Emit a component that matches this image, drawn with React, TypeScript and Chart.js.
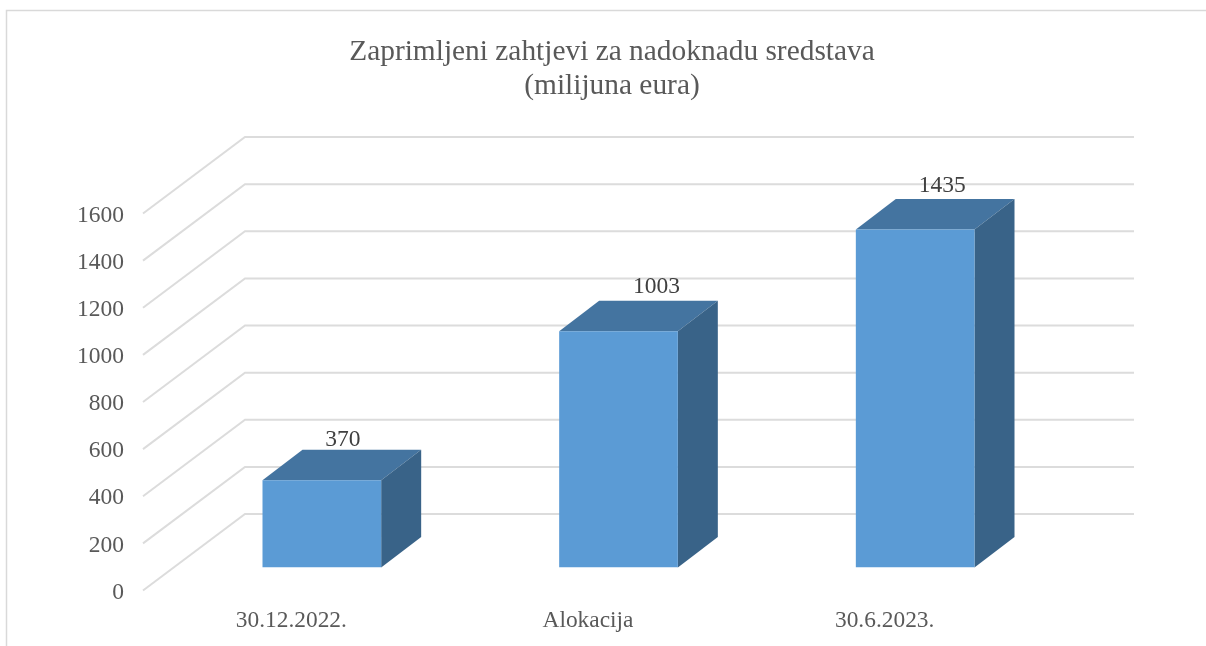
import React, { useEffect, useRef } from "react";
import { Chart, registerables } from "chart.js";

Chart.register(...registerables);

const categories = ["30.12.2022.", "Alokacija", "30.6.2023."];
const values = [370, 1003, 1435];
const titleLines = ["Zaprimljeni zahtjevi za nadoknadu sredstava", "(milijuna eura)"];

const FONT = '"Liberation Serif", serif';
const WALL_DX = 102;
const WALL_DY = 76.5;
const BAR_SHIFT_X = 30.5;
const BAR_SHIFT_Y = 23;
const DEPTH_DX = 40;
const DEPTH_DY = 30.5;
// the value labels sit at slightly different spots over each bar
const LABEL_NUDGE_X = [21, 38, 27];
const LABEL_NUDGE_Y = [-9.5, -13.5, -13.5];

const framePlugin = {
  id: "frame",
  beforeDraw(chart: any) {
    const { ctx, width, height } = chart;
    ctx.save();
    ctx.fillStyle = "#ffffff";
    ctx.fillRect(0, 0, width, height);
    ctx.strokeStyle = "#d9d9d9";
    ctx.lineWidth = 1.5;
    ctx.beginPath();
    ctx.moveTo(6.5, height);
    ctx.lineTo(6.5, 10.5);
    ctx.lineTo(width, 10.5);
    ctx.stroke();
    ctx.restore();
  },
};

const titleShiftPlugin = {
  id: "titleShift",
  afterLayout(chart: any) {
    const t = chart.titleBlock;
    if (t) {
      t.left = 0;
      t.right = 1224;
    }
  },
};

const wallPlugin = {
  id: "wall",
  beforeDatasetsDraw(chart: any) {
    const { ctx, scales, chartArea } = chart;
    ctx.save();
    ctx.strokeStyle = "#dcdcdc";
    ctx.lineWidth = 2;
    for (const tick of scales.y.ticks) {
      const y = scales.y.getPixelForValue(tick.value);
      ctx.beginPath();
      ctx.moveTo(chartArea.left, y);
      ctx.lineTo(chartArea.left + WALL_DX, y - WALL_DY);
      ctx.lineTo(chartArea.right + WALL_DX - 1, y - WALL_DY);
      ctx.stroke();
    }
    ctx.restore();
    // bars stand on the floor of the box, slightly behind the front edge
    ctx.save();
    ctx.translate(BAR_SHIFT_X, -BAR_SHIFT_Y);
    const meta = chart.getDatasetMeta(0);
    meta.data.forEach((bar: any) => {
      const half = bar.width / 2;
      const l = bar.x - half;
      const r = bar.x + half;
      const top = bar.y;
      const bottom = bar.base;
      ctx.fillStyle = "#4474a0";
      ctx.beginPath();
      ctx.moveTo(l, top);
      ctx.lineTo(l + DEPTH_DX, top - DEPTH_DY);
      ctx.lineTo(r + DEPTH_DX, top - DEPTH_DY);
      ctx.lineTo(r, top);
      ctx.closePath();
      ctx.fill();
      ctx.fillStyle = "#396388";
      ctx.beginPath();
      ctx.moveTo(r, top);
      ctx.lineTo(r + DEPTH_DX, top - DEPTH_DY);
      ctx.lineTo(r + DEPTH_DX, bottom - DEPTH_DY);
      ctx.lineTo(r, bottom);
      ctx.closePath();
      ctx.fill();
    });
  },
  afterDatasetsDraw(chart: any) {
    const { ctx } = chart;
    ctx.restore();
    ctx.save();
    ctx.font = `23.5px ${FONT}`;
    ctx.fillStyle = "#404040";
    ctx.textAlign = "center";
    ctx.textBaseline = "middle";
    const meta = chart.getDatasetMeta(0);
    meta.data.forEach((bar: any, i: number) => {
      ctx.fillText(
        String(values[i]),
        bar.x + BAR_SHIFT_X + LABEL_NUDGE_X[i],
        bar.y - BAR_SHIFT_Y - DEPTH_DY + LABEL_NUDGE_Y[i],
      );
    });
    ctx.restore();
  },
};

export default function App() {
  const ref = useRef<HTMLCanvasElement | null>(null);
  useEffect(() => {
    const chart = new Chart(ref.current as HTMLCanvasElement, {
      type: "bar",
      data: {
        labels: categories,
        datasets: [
          {
            label: "Zahtjevi",
            data: values,
            backgroundColor: "#5b9bd5",
            categoryPercentage: 0.4,
            barPercentage: 1,
          },
        ],
      },
      options: {
        animation: false,
        responsive: false,
        layout: { padding: { left: 0, right: 173, top: 35, bottom: 0 } },
        plugins: {
          legend: { display: false },
          tooltip: { enabled: false },
          title: {
            display: true,
            text: titleLines,
            color: "#595959",
            font: { family: FONT, size: 29.4, weight: "normal", lineHeight: 1.157 },
            padding: { top: 0, bottom: 110.5 },
          },
        },
        scales: {
          x: {
            grid: { display: false },
            border: { display: false },
            ticks: {
              color: "#595959",
              font: { family: FONT, size: 23.4 },
              padding: 8,
              maxRotation: 0,
            },
            afterFit(s: any) {
              s.height = 55.5;
            },
          },
          y: {
            min: 0,
            max: 1600,
            grid: { display: false, drawTicks: false },
            border: { display: false },
            ticks: {
              stepSize: 200,
              color: "#595959",
              font: { family: FONT, size: 23.5 },
              padding: 19,
              labelOffset: 2,
              callback: (v: any) => String(v),
            },
            afterFit(s: any) {
              s.width = 143;
            },
          },
        },
      },
      plugins: [framePlugin, titleShiftPlugin, wallPlugin],
    } as any);
    return () => chart.destroy();
  }, []);
  return (
    <canvas
      ref={ref}
      width={1206}
      height={646}
      style={{ position: "fixed", left: 0, top: 0, display: "block" }}
    />
  );
}
